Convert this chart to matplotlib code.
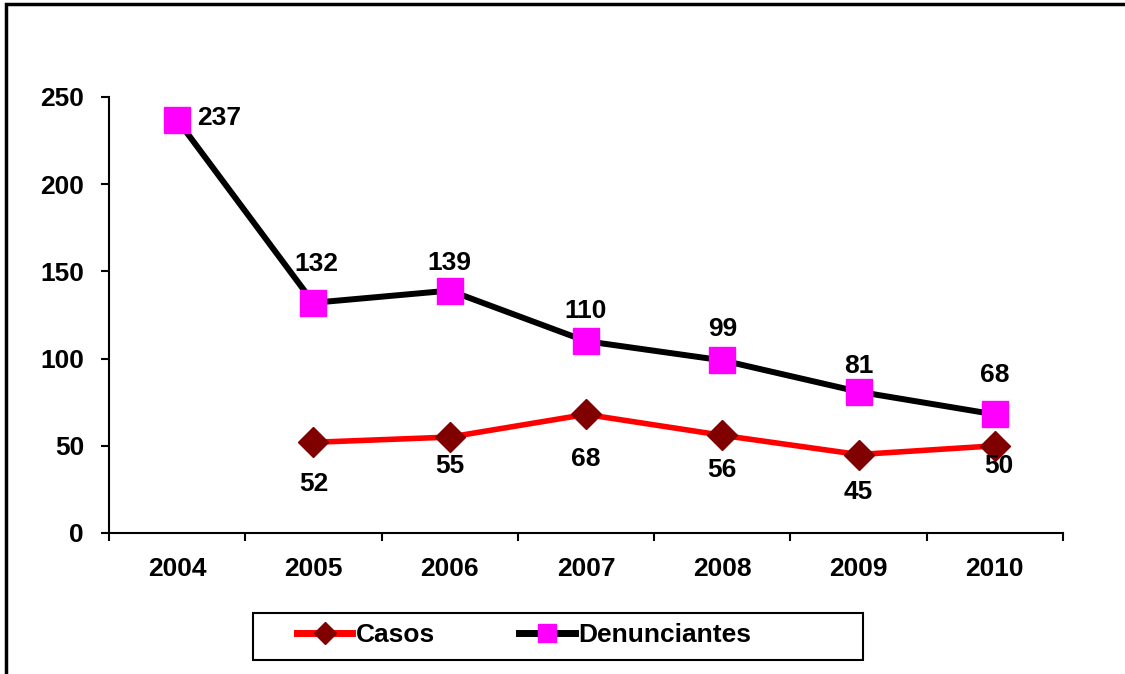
import numpy as np
import matplotlib
matplotlib.use("Agg")
from matplotlib import pyplot as plt
from matplotlib.lines import Line2D
from matplotlib.patches import Rectangle

plt.rcParams["font.family"] = ["Liberation Sans", "DejaVu Sans"]
plt.rcParams["font.weight"] = "bold"

years = ["2004", "2005", "2006", "2007", "2008", "2009", "2010"]
casos = [np.nan, 52, 55, 68, 56, 45, 50]
denunciantes = [237, 132, 139, 110, 99, 81, 68]

# label offsets in pixels (dx, dy), as placed in the original
casos_off = [None, (0, -42), (0, -29), (0, -45), (0, -35), (0, -37), (4, -20)]
denun_off = [(42, 2), (3, 39), (0, 28), (0, 30), (0, 31), (0, 26), (0, 39)]

fig = plt.figure(figsize=(11.25, 6.74), dpi=100)
ax = fig.add_axes([109 / 1125, 1 - 533 / 674, 954 / 1125, 436 / 674])

x = np.arange(len(years))
ax.plot(x, casos, color="#FF0000", lw=4, marker="D", ms=15.5,
        mfc="#800000", mec="#800000", zorder=3)
ax.plot(x, denunciantes, color="black", lw=4.3, marker="s", ms=19,
        mfc="#FF00FF", mec="#FF00FF", zorder=4)

fs = 19
for i, v in enumerate(casos):
    if casos_off[i] is None:
        continue
    ax.annotate(f"{v:.0f}", (i, v), xytext=casos_off[i], textcoords="offset pixels",
                ha="center", va="center", fontsize=fs, fontweight="bold")
for i, v in enumerate(denunciantes):
    ax.annotate(f"{v}", (i, v), xytext=denun_off[i], textcoords="offset pixels",
                ha="center", va="center", fontsize=fs, fontweight="bold")

ax.set_xlim(-0.5, len(years) - 0.5)
ax.set_ylim(0, 250)
ax.set_yticks([0, 50, 100, 150, 200, 250])
ax.set_xticks(x)
ax.set_xticklabels(years)
ax.set_xticks(np.arange(len(years) + 1) - 0.5, minor=True)
ax.tick_params(axis="x", which="major", length=0, pad=17, labelsize=fs)
ax.tick_params(axis="x", which="minor", length=6, width=1.5, direction="out")
ax.tick_params(axis="y", length=6, width=1.5, direction="out", pad=12, labelsize=fs)
for lab in ax.get_xticklabels() + ax.get_yticklabels():
    lab.set_fontweight("bold")
for s in ["top", "right"]:
    ax.spines[s].set_visible(False)
for s in ["left", "bottom"]:
    ax.spines[s].set_linewidth(1.5)

handles = [
    Line2D([], [], color="#FF0000", lw=5, marker="D", ms=11,
           mfc="#800000", mec="#800000"),
    Line2D([], [], color="black", lw=5, marker="s", ms=12.5,
           mfc="#FF00FF", mec="#FF00FF"),
]
leg = fig.legend(handles, ["Casos", "Denunciantes"], loc="center left", ncol=2,
                 bbox_to_anchor=(297 / 1125, 1 - 635 / 674),
                 frameon=False, prop={"size": fs, "weight": "bold"},
                 handlelength=2.1, handletextpad=0.12, columnspacing=3.2,
                 borderpad=0, borderaxespad=0)

# legend frame
fig.patches.append(Rectangle((253 / 1125, 1 - 660 / 674), 610 / 1125, 47 / 674,
                             transform=fig.transFigure, fill=False,
                             edgecolor="black", lw=1.5))
# outer chart border
fig.patches.append(Rectangle((6 / 1125, -0.1), 1.2, 1 - 4 / 674 + 0.1,
                             transform=fig.transFigure, fill=False,
                             edgecolor="black", lw=2.5))

fig.savefig("out.png", dpi=100)
